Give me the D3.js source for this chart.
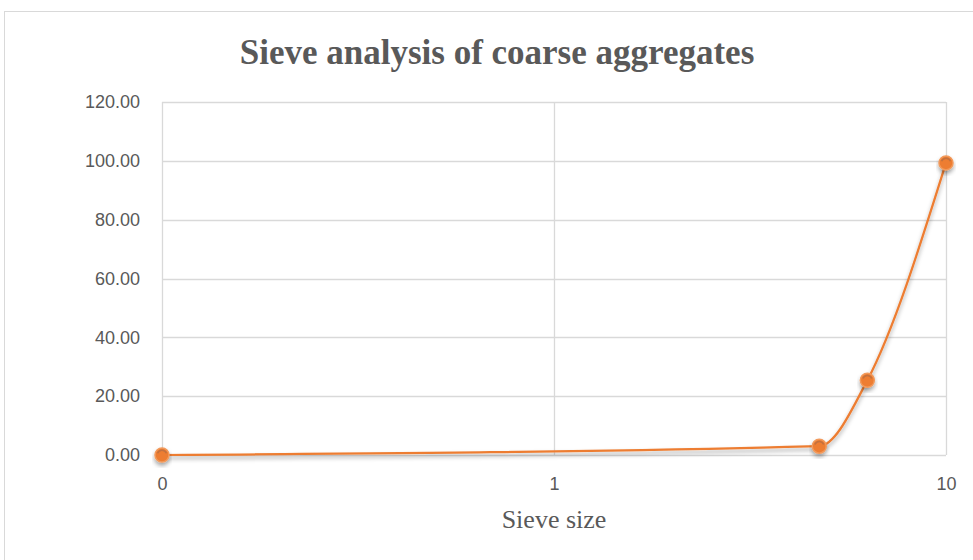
<!DOCTYPE html>
<html>
<head>
<meta charset="utf-8">
<script src="https://cdn.jsdelivr.net/npm/d3@7"></script>
<style>
  html, body { margin: 0; padding: 0; background: #fff; }
  svg { display: block; }
</style>
</head>
<body>
<svg id="chart" width="973" height="560"></svg>
<script>
// Sieve sizes (mm) and cumulative percentage passing
const sieveSizes = [0.1, 4.75, 6.3, 10];
const percentPassing = [0, 3.0, 25.4, 99.3];
const yTicks = [0, 20, 40, 60, 80, 100, 120];
const xTicks = [0.1, 1, 10];
const xTickLabels = ["0", "1", "10"];

const svg = d3.select("#chart");
const W = 973, H = 560;
const plot = { left: 162, right: 946, top: 102, bottom: 455 };

// chart frame
svg.append("rect")
  .attr("x", 4.5).attr("y", 11.5)
  .attr("width", W).attr("height", H)
  .attr("fill", "#fff").attr("stroke", "#d9d9d9").attr("stroke-width", 1);

const defs = svg.append("defs");
const shadow = defs.append("filter").attr("id", "shadow")
  .attr("x", "-20%").attr("y", "-20%").attr("width", "140%").attr("height", "160%");
shadow.append("feDropShadow")
  .attr("dx", 0).attr("dy", 3).attr("stdDeviation", 2.2)
  .attr("flood-color", "#000").attr("flood-opacity", 0.35);

const x = d3.scaleLog().domain([0.1, 10]).range([plot.left, plot.right]);
const y = d3.scaleLinear().domain([0, 120]).range([plot.bottom, plot.top]);

// horizontal gridlines
svg.append("g").selectAll("line").data(yTicks).join("line")
  .attr("x1", plot.left).attr("x2", plot.right)
  .attr("y1", d => Math.round(y(d)) + 0.5).attr("y2", d => Math.round(y(d)) + 0.5)
  .attr("stroke", "#d9d9d9").attr("stroke-width", 1.3);

// vertical gridlines at decades
svg.append("g").selectAll("line").data(xTicks).join("line")
  .attr("x1", d => Math.round(x(d)) + 0.5).attr("x2", d => Math.round(x(d)) + 0.5)
  .attr("y1", plot.top).attr("y2", plot.bottom)
  .attr("stroke", "#d9d9d9").attr("stroke-width", 1.3);

// y axis labels
const yAxis = d3.axisLeft(y).tickValues(yTicks).tickFormat(d3.format(".2f")).tickSize(0).tickPadding(22);
const gy = svg.append("g").attr("transform", `translate(${plot.left},0)`).call(yAxis);
gy.select(".domain").remove();
gy.selectAll("text")
  .attr("font-family", "'Liberation Sans', Arial, sans-serif")
  .attr("font-size", 18).attr("fill", "#595959");

// x axis labels
const xAxis = d3.axisBottom(x).tickValues(xTicks)
  .tickFormat((d, i) => xTickLabels[i]).tickSize(0).tickPadding(22);
const gx = svg.append("g").attr("transform", `translate(0,${plot.bottom})`).call(xAxis);
gx.select(".domain").remove();
gx.selectAll("text")
  .attr("font-family", "'Liberation Sans', Arial, sans-serif")
  .attr("font-size", 18).attr("fill", "#595959");

// title
svg.append("text")
  .attr("x", 497).attr("y", 64)
  .attr("text-anchor", "middle")
  .attr("font-family", "'Liberation Serif', 'Times New Roman', serif")
  .attr("font-weight", "bold").attr("font-size", 35).attr("fill", "#595959")
  .text("Sieve analysis of coarse aggregates");

// x axis title
svg.append("text")
  .attr("x", (plot.left + plot.right) / 2).attr("y", 528)
  .attr("text-anchor", "middle")
  .attr("font-family", "'Liberation Serif', 'Times New Roman', serif")
  .attr("font-size", 26).attr("fill", "#595959")
  .text("Sieve size");

const points = sieveSizes.map((s, i) => [s, percentPassing[i]]);

// smoothed series line
const line = d3.line()
  .x(d => x(d[0])).y(d => y(d[1]))
  .curve(d3.curveMonotoneX);

svg.append("path")
  .datum(points)
  .attr("d", line)
  .attr("fill", "none")
  .attr("stroke", "#ED7D31").attr("stroke-width", 2.25)
  .attr("filter", "url(#shadow)");

// markers
const markers = svg.append("g").selectAll("g").data(points).join("g")
  .attr("transform", d => `translate(${x(d[0])},${y(d[1])})`)
  .attr("filter", "url(#shadow)");
markers.append("circle")
  .attr("r", 7)
  .attr("fill", "#ED7D31")
  .attr("stroke", "#F29A5C").attr("stroke-width", 1.5);
markers.append("path")
  .attr("d", d3.arc()({ innerRadius: 4, outerRadius: 5.5, startAngle: -1.2, endAngle: 1.2 }))
  .attr("fill", "#a0684a").attr("opacity", 0.55);
</script>
</body>
</html>
